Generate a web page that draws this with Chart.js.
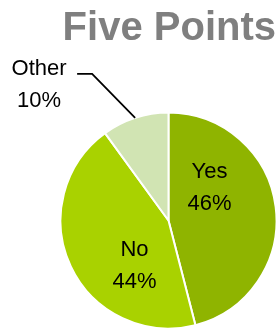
<!DOCTYPE html>
<html>
<head>
<meta charset="utf-8">
<script src="https://cdn.jsdelivr.net/npm/chart.js@4"></script>
<style>
  html, body { margin: 0; padding: 0; background: #fff; }
  #wrap { width: 279px; height: 329px; }
</style>
</head>
<body>
<div id="wrap"><canvas id="pie" width="279" height="329"></canvas></div>
<script>
'use strict';
const categories = ['Yes', 'No', 'Other'];
const shares = [46, 44, 10];
const sliceColors = ['#8fb400', '#a9d200', '#d1e4b3'];

// label placement per slice (offset from pie centre, or from arc edge for outside labels)
const labelSpots = [
    { outside: false, dx: 41, dy: -33 },
    { outside: false, dx: -34, dy: 45 },
    { outside: true, dx: -96, dy: -33, knee: [-43, -44], end: [-58, -44] }
];

const sliceLabels = {
    id: 'sliceLabels',
    afterDatasetsDraw(chart) {
        const ctx = chart.ctx;
        const meta = chart.getDatasetMeta(0);
        ctx.save();
        ctx.font = '22px "Liberation Sans", Arial, sans-serif';
        ctx.textAlign = 'center';
        ctx.textBaseline = 'middle';
        ctx.fillStyle = '#000';
        meta.data.forEach((arc, i) => {
            const p = arc.getProps(['x', 'y', 'startAngle', 'endAngle', 'outerRadius'], true);
            const spot = labelSpots[i];
            let bx = p.x, by = p.y;
            if (spot.outside) {
                const mid = (p.startAngle + p.endAngle) / 2;
                bx = p.x + Math.cos(mid) * p.outerRadius;
                by = p.y + Math.sin(mid) * p.outerRadius;
                ctx.beginPath();
                ctx.strokeStyle = '#000';
                ctx.lineWidth = 1.8;
                ctx.moveTo(bx, by);
                ctx.lineTo(bx + spot.knee[0], by + spot.knee[1]);
                ctx.lineTo(bx + spot.end[0], by + spot.end[1]);
                ctx.stroke();
            }
            const tx = bx + spot.dx, ty = by + spot.dy;
            ctx.fillText(categories[i], tx, ty - 16);
            ctx.fillText(shares[i] + '%', tx, ty + 16);
        });
        ctx.restore();
    }
};

new Chart(document.getElementById('pie'), {
    type: 'pie',
    data: {
        labels: categories,
        datasets: [{
            data: shares,
            backgroundColor: sliceColors,
            borderColor: '#ffffff',
            borderWidth: 2
        }]
    },
    options: {
        responsive: false,
        animation: false,
        radius: 108,
        layout: { padding: { left: 61, right: 3, top: 0, bottom: 2 } },
        plugins: {
            legend: { display: false },
            tooltip: { enabled: false },
            title: {
                display: true,
                text: 'Five Points',
                align: 'end',
                color: '#7f7f7f',
                font: { family: '"Liberation Sans", Arial, sans-serif', size: 40, weight: 'bold', lineHeight: 1.2 },
                padding: { top: 5, bottom: 61 }
            }
        }
    },
    plugins: [sliceLabels]
});
</script>
</body>
</html>
